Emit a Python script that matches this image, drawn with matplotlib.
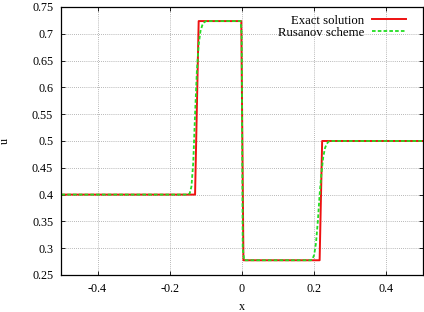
import matplotlib
matplotlib.use("Agg")
import matplotlib.pyplot as plt

plt.rcParams["font.family"] = ["Liberation Serif", "DejaVu Serif"]

# exact solution (sampled)
X_EXACT = [-0.5, -0.13, -0.12, -0.002, 0.004, 0.215, 0.222, 0.5]
U_EXACT = [0.4, 0.4, 0.7237, 0.7237, 0.2775, 0.2775, 0.5, 0.5]

# Rusanov scheme
X_RUS = [-0.5, -0.15, -0.145, -0.14, -0.135, -0.13, -0.125, -0.12, -0.115,
         -0.11, -0.105, -0.1, -0.004, -0.001, 0.002, 0.006,
         0.19, 0.195, 0.2, 0.205, 0.21, 0.215, 0.22, 0.225, 0.23, 0.235,
         0.24, 0.245, 0.5]
U_RUS = [0.4, 0.4, 0.402, 0.415, 0.46, 0.55, 0.63, 0.68, 0.705,
         0.716, 0.721, 0.7237, 0.7237, 0.70, 0.30, 0.2775,
         0.2775, 0.279, 0.288, 0.31, 0.35, 0.40, 0.44, 0.47, 0.487, 0.495,
         0.499, 0.5, 0.5]

X_TICKS = [-0.4, -0.2, 0, 0.2, 0.4]
X_TICK_LABELS = ["-0.4", "-0.2", "0", "0.2", "0.4"]
Y_TICKS = [0.25, 0.3, 0.35, 0.4, 0.45, 0.5, 0.55, 0.6, 0.65, 0.7, 0.75]
Y_TICK_LABELS = ["0.25", "0.3", "0.35", "0.4", "0.45", "0.5", "0.55",
                 "0.6", "0.65", "0.7", "0.75"]

fig = plt.figure(figsize=(4.24, 3.12), dpi=100)
ax = fig.add_axes([0.145, 0.1186, 0.8515, 0.859])

ax.plot(X_EXACT, U_EXACT, color="#ee1111", lw=1.4, label="Exact solution")
ax.plot(X_RUS, U_RUS, color="#22dd22", lw=1.3, ls=(0, (2, 1.2)),
        label="Rusanov scheme")

ax.set_xlim(-0.5, 0.5)
ax.set_ylim(0.25, 0.75)
ax.set_xticks(X_TICKS, X_TICK_LABELS)
ax.set_yticks(Y_TICKS, Y_TICK_LABELS)
ax.tick_params(direction="in", top=True, right=True, labelsize=8.7,
               length=3, width=0.6, pad=6)
ax.grid(True, color="#a0a0a0", ls=(0, (1, 1.5)), lw=0.6)
for s in ax.spines.values():
    s.set_linewidth(0.9)

ax.set_xlabel("x", fontsize=8.7, labelpad=4)
ax.set_ylabel("u", fontsize=8.7)
ax.yaxis.set_label_coords(-0.139, 0.5)

ax.legend(loc="upper right", bbox_to_anchor=(0.976, 1.0), frameon=False,
          markerfirst=False, fontsize=9.2, handlelength=2.7,
          borderaxespad=0.2, labelspacing=0.0, handletextpad=0.6)

fig.savefig("out.png", dpi=100)
